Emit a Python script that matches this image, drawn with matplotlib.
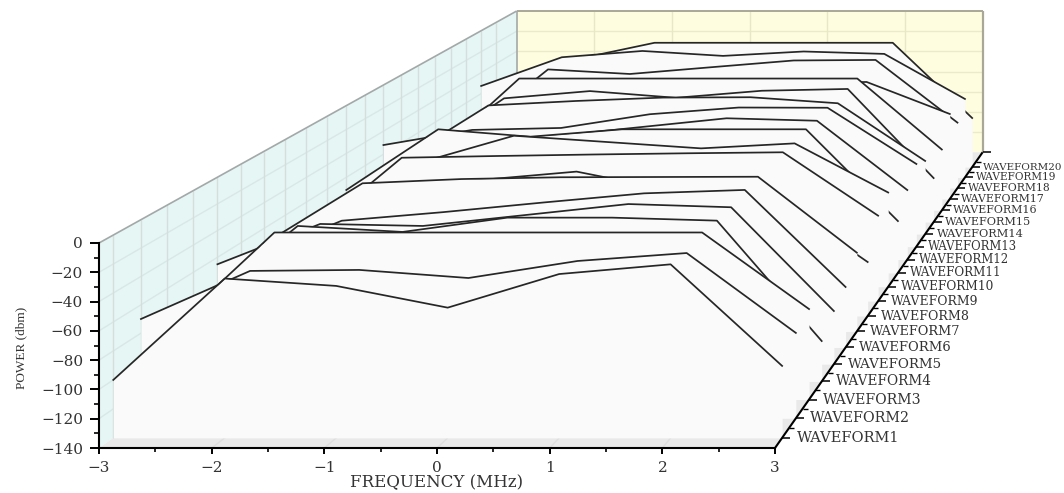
import matplotlib
matplotlib.use('Agg')
import matplotlib.pyplot as plt
from matplotlib.patches import Polygon
from matplotlib.transforms import Affine2D
from matplotlib.ticker import MultipleLocator

# Frequency points shared by every trace
freq = [-3, -2, -1, 0, 1, 2, 3]

# Power (dbm) of each waveform
power_wf1 = [-100.0, -30.0, -35.1, -50.1, -26.9, -20.2, -90.3]
power_wf2 = [-70.0, -36.1, -35.4, -41.1, -29.1, -23.5, -79.8]
power_wf3 = [-91.4, -19.8, -19.8, -19.8, -19.8, -19.8, -74.9]
power_wf4 = [-87.5, -25.8, -30.2, -19.7, -19.7, -21.9, -110.3]
power_wf5 = [-65.2, -35.0, -36.5, -28.3, -20.1, -22.5, -100.2]
power_wf6 = [-74.7, -43.2, -36.7, -29.3, -22.3, -19.7, -93.8]
power_wf7 = [-72.0, -24.7, -21.4, -20.0, -19.8, -19.6, -78.7]
power_wf8 = [-99.6, -40.1, -32.2, -25.5, -40.8, -44.0, -97.2]
power_wf9 = [-87.8, -24.2, -22.8, -21.6, -20.6, -19.8, -71.0]
power_wf10 = [-97.5, -37.8, -15.8, -21.0, -26.2, -22.1, -62.5]
power_wf11 = [-70.6, -19.8, -26.0, -19.8, -19.8, -19.8, -96.6]
power_wf12 = [-93.6, -42.5, -35.6, -27.6, -19.7, -21.8, -80.8]
power_wf13 = [-52.0, -38.9, -37.2, -25.3, -19.5, -19.7, -68.4]
power_wf14 = [-74.6, -26.6, -22.7, -19.7, -19.4, -24.7, -75.5]
power_wf15 = [-80.9, -29.2, -22.7, -28.7, -22.4, -20.8, -100.6]
power_wf16 = [-89.7, -20.0, -20.0, -20.0, -20.0, -20.0, -84.6]
power_wf17 = [-94.6, -39.1, -37.2, -35.4, -33.5, -31.7, -61.3]
power_wf18 = [-90.0, -28.5, -32.8, -26.4, -20.1, -19.6, -78.5]
power_wf19 = [-52.7, -25.3, -19.3, -24.0, -19.8, -22.1, -65.1]
power_wf20 = [-63.3, -35.7, -19.5, -19.5, -19.5, -19.5, -92.4]

waveforms = [power_wf1, power_wf2, power_wf3, power_wf4, power_wf5,
             power_wf6, power_wf7, power_wf8, power_wf9, power_wf10,
             power_wf11, power_wf12, power_wf13, power_wf14, power_wf15,
             power_wf16, power_wf17, power_wf18, power_wf19, power_wf20]
wave_labels = [f'WAVEFORM{i}' for i in range(1, 21)]

freq_grid = [-2, -1, 0, 1, 2]
power_grid = [-20, -40, -60, -80, -100, -120]

W, H = 1064, 493
VANISH = (1443, H + 503.5)   # vanishing point of the depth axis, display px
K = 0.451                    # perspective strength
SERIF = 'DejaVu Serif'

fig = plt.figure(figsize=(W / 100, H / 100), dpi=100)
fig.patch.set_facecolor('white')
ax = fig.add_axes([99 / W, (H - 448) / H, 676 / W, 205 / H])
ax.patch.set_visible(False)
ax.set_xlim(-3, 3)
ax.set_ylim(-140, 0)
ax.set_autoscale_on(False)


def depth_scale(pos):
    # pos is the waveform axis value, it runs from 0.5 to 21.5
    return 1 / (1 + K * (pos - 0.5) / 21)


def depth_transform(pos):
    # a deeper plane is the front plane shrunk towards the vanishing point
    s = depth_scale(pos)
    shrink = Affine2D().translate(-VANISH[0], -VANISH[1]).scale(s).translate(*VANISH)
    return ax.transData + shrink


def disp(x, z, pos):
    return depth_transform(pos).transform((x, z))


def px_line(p, q, **kw):
    ax.plot([p[0], q[0]], [p[1], q[1]], transform=None, clip_on=False,
            solid_capstyle='butt', **kw)


FRONT, BACK = 0.5, 21.5

# Walls and floor
left_wall = [disp(-3, 0, FRONT), disp(-3, 0, BACK), disp(-3, -140, BACK), disp(-3, -140, FRONT)]
back_wall = [disp(-3, 0, BACK), disp(3, 0, BACK), disp(3, -140, BACK), disp(-3, -140, BACK)]
floor = [disp(-3, -140, FRONT), disp(3, -140, FRONT), disp(3, -140, BACK), disp(-3, -140, BACK)]
ax.add_patch(Polygon(left_wall, closed=True, transform=None, fc='#e6f6f5', ec='none', zorder=0, clip_on=False))
ax.add_patch(Polygon(back_wall, closed=True, transform=None, fc='#fffde0', ec='none', zorder=0, clip_on=False))
ax.add_patch(Polygon(floor, closed=True, transform=None, fc='#e9e9e9', ec='none', zorder=0, clip_on=False))

for z in power_grid:
    px_line(disp(-3, z, FRONT), disp(-3, z, BACK), color='#d9e8e6', lw=1.0, zorder=0.5)
    px_line(disp(-3, z, BACK), disp(3, z, BACK), color='#ecebc8', lw=1.0, zorder=0.5)
for i in range(1, 21):
    px_line(disp(-3, 0, i), disp(-3, -140, i), color='#d3dedd', lw=1.0, zorder=0.5)
for x in freq_grid:
    px_line(disp(x, 0, BACK), disp(x, -140, BACK), color='#e8e7c6', lw=1.0, zorder=0.5)
    px_line(disp(x, -140, FRONT), disp(x, -140, BACK), color='#dedede', lw=1.0, zorder=0.5)

px_line(disp(-3, 0, FRONT), disp(-3, 0, BACK), color='#a3a8a8', lw=1.2, zorder=0.6)
px_line(disp(-3, 0, BACK), disp(3, 0, BACK), color='#a9a898', lw=1.4, zorder=0.6)
px_line(disp(3, 0, BACK), disp(3, -140, BACK), color='#a9a898', lw=1.6, zorder=0.6)
px_line(disp(-3, 0, BACK), disp(-3, -140, BACK), color='#a3a8a8', lw=1.2, zorder=0.6)

# Traces, back to front so nearer ones hide the ones behind
for i in range(20, 0, -1):
    tf = depth_transform(i)
    order = 1 + (20 - i) * 0.05
    ax.fill_between(freq, waveforms[i - 1], -140, transform=tf, color='#fafafa',
                    lw=0, zorder=order, clip_on=False)
    ax.plot(freq, waveforms[i - 1], transform=tf, color='#262626', lw=1.25,
            zorder=order + 0.01, clip_on=False)

# Depth axis with its ticks and labels
px_line(disp(3, -140, FRONT), disp(3, -140, BACK), color='black', lw=1.5, zorder=3)
for i in range(1, 21):
    p = disp(3, -140, i)
    px_line(p, (p[0] + 8, p[1]), color='black', lw=1.1, zorder=3)
    m = disp(3, -140, i + 0.5)
    px_line(m, (m[0] + 5, m[1]), color='black', lw=1.0, zorder=3)
    s = depth_scale(i)
    ax.text(p[0] + 15 * s, p[1], wave_labels[i - 1], transform=None, family=SERIF,
            fontsize=10.6 * s, color='#333333', ha='left', va='center', clip_on=False)
top_tick = disp(3, -140, BACK)
px_line(top_tick, (top_tick[0] + 8, top_tick[1]), color='black', lw=1.1, zorder=3)

# Front axes
for side in ['top', 'right']:
    ax.spines[side].set_visible(False)
for side in ['left', 'bottom']:
    ax.spines[side].set_linewidth(1.5)
    ax.spines[side].set_zorder(3)
ax.xaxis.set_major_locator(MultipleLocator(1))
ax.xaxis.set_minor_locator(MultipleLocator(0.5))
ax.yaxis.set_major_locator(MultipleLocator(20))
ax.yaxis.set_minor_locator(MultipleLocator(10))
ax.tick_params(axis='y', which='major', length=6.5, width=1.4, pad=5, labelsize=11, labelcolor='#333333')
ax.tick_params(axis='y', which='minor', length=3.6, width=1.2)
ax.tick_params(axis='x', which='major', length=4, width=1.4, pad=5, labelsize=11, labelcolor='#333333')
ax.tick_params(axis='x', which='minor', length=3, width=1.2)
for label in ax.get_xticklabels() + ax.get_yticklabels():
    label.set_family(SERIF)

ax.set_xlabel('FREQUENCY (MHz)', family=SERIF, fontsize=12, color='#333333', va='center')
ax.xaxis.set_label_coords(0.5, -0.17)
ax.set_ylabel('POWER (dbm)', family='Liberation Serif', fontsize=9.5, color='#333333', va='center')
ax.yaxis.set_label_coords(-0.115, 0.49)

fig.savefig('out.png', dpi=100)
